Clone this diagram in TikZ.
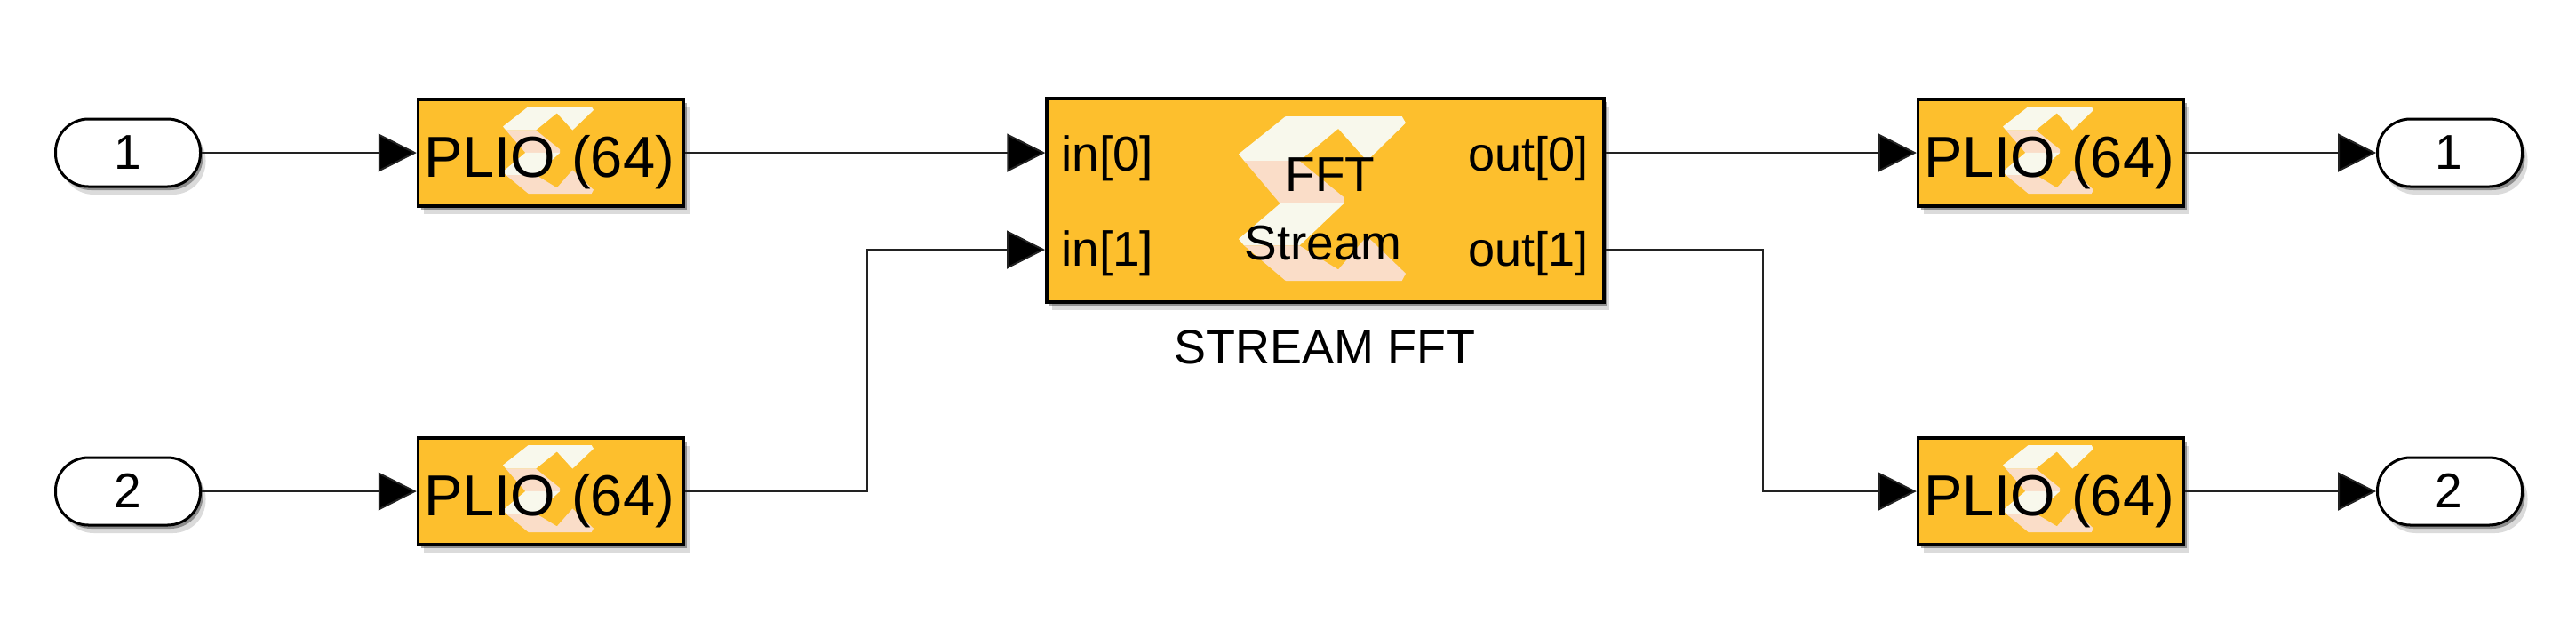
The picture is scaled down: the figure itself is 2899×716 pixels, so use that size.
\documentclass[tikz,border=0pt]{standalone}
\usepackage{fontspec}
\setmainfont{Liberation Sans}
\usetikzlibrary{arrows.meta,shadows,positioning}
\definecolor{boxfill}{HTML}{FDBF2D}
\definecolor{logowhite}{HTML}{F8F8EC}
\definecolor{logopink}{HTML}{FADDC8}
\definecolor{wirecol}{HTML}{222222}
\tikzset{
  softshadow/.style={drop shadow={shadow xshift=3pt,shadow yshift=-4pt,opacity=.35,fill=black},
                     drop shadow={shadow xshift=6pt,shadow yshift=-9pt,opacity=.14,fill=black}},
  blockbox/.style={draw=black,line width=3.5pt,fill=boxfill,rectangle,inner sep=0pt,softshadow},
  plio/.style={blockbox,minimum width=299pt,minimum height=120pt},
  portbox/.style={draw=black,line width=3pt,fill=white,rectangle,rounded corners=37pt,inner sep=0pt,
                  minimum width=163pt,minimum height=76pt,softshadow},
  wire/.style={draw=wirecol,line width=2pt,-{Triangle[length=43pt,width=43pt,fill=black]}},
  plabel/.style={anchor=base,inner sep=0pt,font=\fontsize{65}{70}\selectfont},
  blabel/.style={anchor=base,inner sep=0pt,font=\fontsize{55}{60}\selectfont},
}
% logo drawn in a unit square: #1 left, #2 top, #3 width, #4 height
\newcommand{\xlogo}[4]{%
  \begin{scope}[shift={(#1,#2)},x=#3pt,y=-#4pt,line join=round]
    \fill[logowhite] (.281,0)--(.977,0)--(1,.04)--(.768,.271)--(.596,.075)--(.364,.271)--(.033,.271)--(0,.229)--cycle;
    \fill[logopink] (.033,.271)--(.364,.271)--(.629,.492)--(.629,.53)--(.248,.53)--cycle;
    \fill[logowhite] (.248,.53)--(.629,.53)--(.364,.786)--(.033,.786)--(0,.746)--cycle;
    \fill[logopink] (.033,.786)--(.364,.786)--(.596,.932)--(.768,.729)--(1,.956)--(.977,1)--(.281,1)--cycle;
  \end{scope}}
\begin{document}
\begin{tikzpicture}[x=1pt,y=-1pt]
\useasboundingbox (0,0) rectangle (2899,716);
% ports
\node[portbox] (inA) at (144,172) {};
\node[portbox] (inB) at (144,553) {};
\node[portbox] (outA) at (2757,172) {};
\node[portbox] (outB) at (2757,553) {};
\node[blabel] (inAt) at (144,190) {1};
\node[blabel] (inBt) at (144,571) {2};
\node[blabel] (outAt) at (2756,190) {1};
\node[blabel] (outBt) at (2756,571) {2};
% PLIO blocks
\node[plio] (pA) at (620,172) {};
\node[plio] (pB) at (620,553) {};
\node[plio] (pC) at (2308,172) {};
\node[plio] (pD) at (2308,553) {};
\xlogo{566}{120}{102}{98}
\xlogo{566}{501}{102}{98}
\xlogo{2254}{120}{102}{98}
\xlogo{2254}{501}{102}{98}
\node[plabel] (pAt) at (618,199) {PLIO (64)};
\node[plabel] (pBt) at (618,580) {PLIO (64)};
\node[plabel] (pCt) at (2306,199) {PLIO (64)};
\node[plabel] (pDt) at (2306,580) {PLIO (64)};
% FFT block
\node[blockbox,minimum width=627pt,minimum height=229pt] (fft) at (1491.5,225.5) {};
\xlogo{1394}{131}{188}{185}
\node[blabel] (fftA) at (1497,215) {FFT};
\node[blabel] (fftB) at (1489,292) {Stream};
\node[blabel,anchor=base west] (i0) at (1194,192) {in[0]};
\node[blabel,anchor=base west] (i1) at (1194,299) {in[1]};
\node[blabel,anchor=base east,font=\fontsize{54}{60}\selectfont] (o0) at (1788,192) {out[0]};
\node[blabel,anchor=base east,font=\fontsize{54}{60}\selectfont] (o1) at (1788,299) {out[1]};
\node[blabel,font=\fontsize{54}{60}\selectfont] (fftname) at (1491,409) {STREAM FFT};
% port coordinates on the FFT block
\coordinate (fi0) at (fft.west |- pA.east);
\coordinate (fi1) at (1176,281);
\coordinate (fo0) at (fft.east |- pC.west);
\coordinate (fo1) at (1807,281);
% connectors
\draw[wire] (inA.east) -- (pA.west);
\draw[wire] (inB.east) -- (pB.west);
\draw[wire] (pA.east) -- (fi0);
\draw[wire] (pB.east) -- (976,553) -- (976,281) -- (fi1);
\draw[wire] (fo0) -- (pC.west);
\draw[wire] (fo1) -- (1984,281) -- (1984,553) -- (pD.west);
\draw[wire] (pC.east) -- (outA.west);
\draw[wire] (pD.east) -- (outB.west);
\end{tikzpicture}
\end{document}
